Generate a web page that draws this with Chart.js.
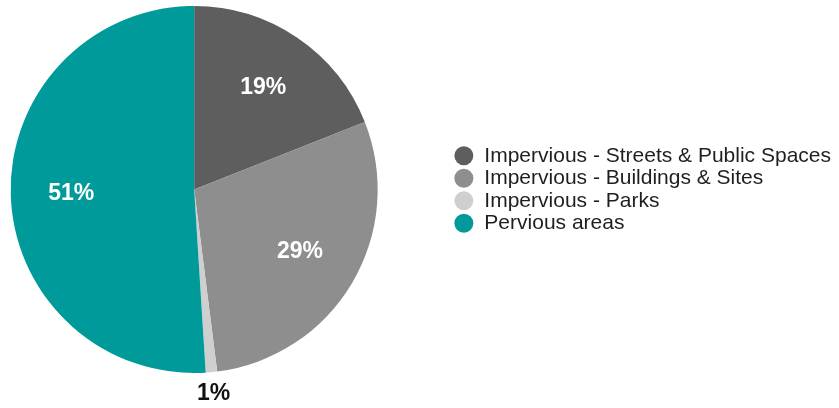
<!DOCTYPE html>
<html>
<head>
<meta charset="utf-8">
<script src="https://cdn.jsdelivr.net/npm/chart.js@4.4.1/dist/chart.umd.min.js"></script>
<style>
  html, body { margin: 0; padding: 0; background: #fff; overflow: hidden; }
  /* canvas is a bit wider than the page and pulled left so the pie sits where it should */
  #wrap { width: 905px; height: 408px; margin-left: -64px; }
</style>
</head>
<body>
<div id="wrap"><canvas id="pie-chart"></canvas></div>
<script>
const labels = ['Impervious - Streets & Public Spaces', 'Impervious - Buildings & Sites', 'Impervious - Parks', 'Pervious areas'];
const shares = [19, 29, 1, 51];
const colors = ['#5e5e5e', '#8e8e8e', '#cfcfcf', '#009a9a'];

// percent labels on the slices, small slices get theirs outside
const sliceLabels = {
    id: 'sliceLabels',
    afterDatasetsDraw(chart) {
        const ctx = chart.ctx
        const meta = chart.getDatasetMeta(0)
        ctx.save()
        ctx.font = 'bold 23px "Liberation Sans", Arial, sans-serif'
        ctx.textAlign = 'center'
        ctx.textBaseline = 'middle'
        meta.data.forEach((arc, i) => {
            const small = shares[i] < 5
            const mid = (arc.startAngle + arc.endAngle) / 2
            const r = arc.outerRadius * (small ? 1.12 : 0.67)
            ctx.fillStyle = small ? '#111' : '#fff'
            ctx.fillText(shares[i] + '%', arc.x + Math.cos(mid) * r, arc.y + Math.sin(mid) * r)
        })
        ctx.restore()
    }
}

new Chart(document.querySelector('#pie-chart').getContext('2d'), {
    type: 'pie',
    data: {
        labels: labels,
        datasets: [{
            data: shares,
            backgroundColor: colors,
            borderWidth: 0
        }]
    },
    options: {
        responsive: true,
        maintainAspectRatio: false,
        animation: false,
        layout: {
            padding: { left: 0, top: 6, bottom: 35, right: 0 }
        },
        plugins: {
            tooltip: { enabled: false },
            legend: {
                position: 'right',
                labels: {
                    usePointStyle: true,
                    pointStyle: 'circle',
                    boxWidth: 20,
                    boxHeight: 13.4,
                    padding: 1.5,
                    color: '#1f1f1f',
                    font: { family: '"Liberation Sans", Arial, sans-serif', size: 21 }
                }
            }
        }
    },
    plugins: [sliceLabels]
});
</script>
</body>
</html>
